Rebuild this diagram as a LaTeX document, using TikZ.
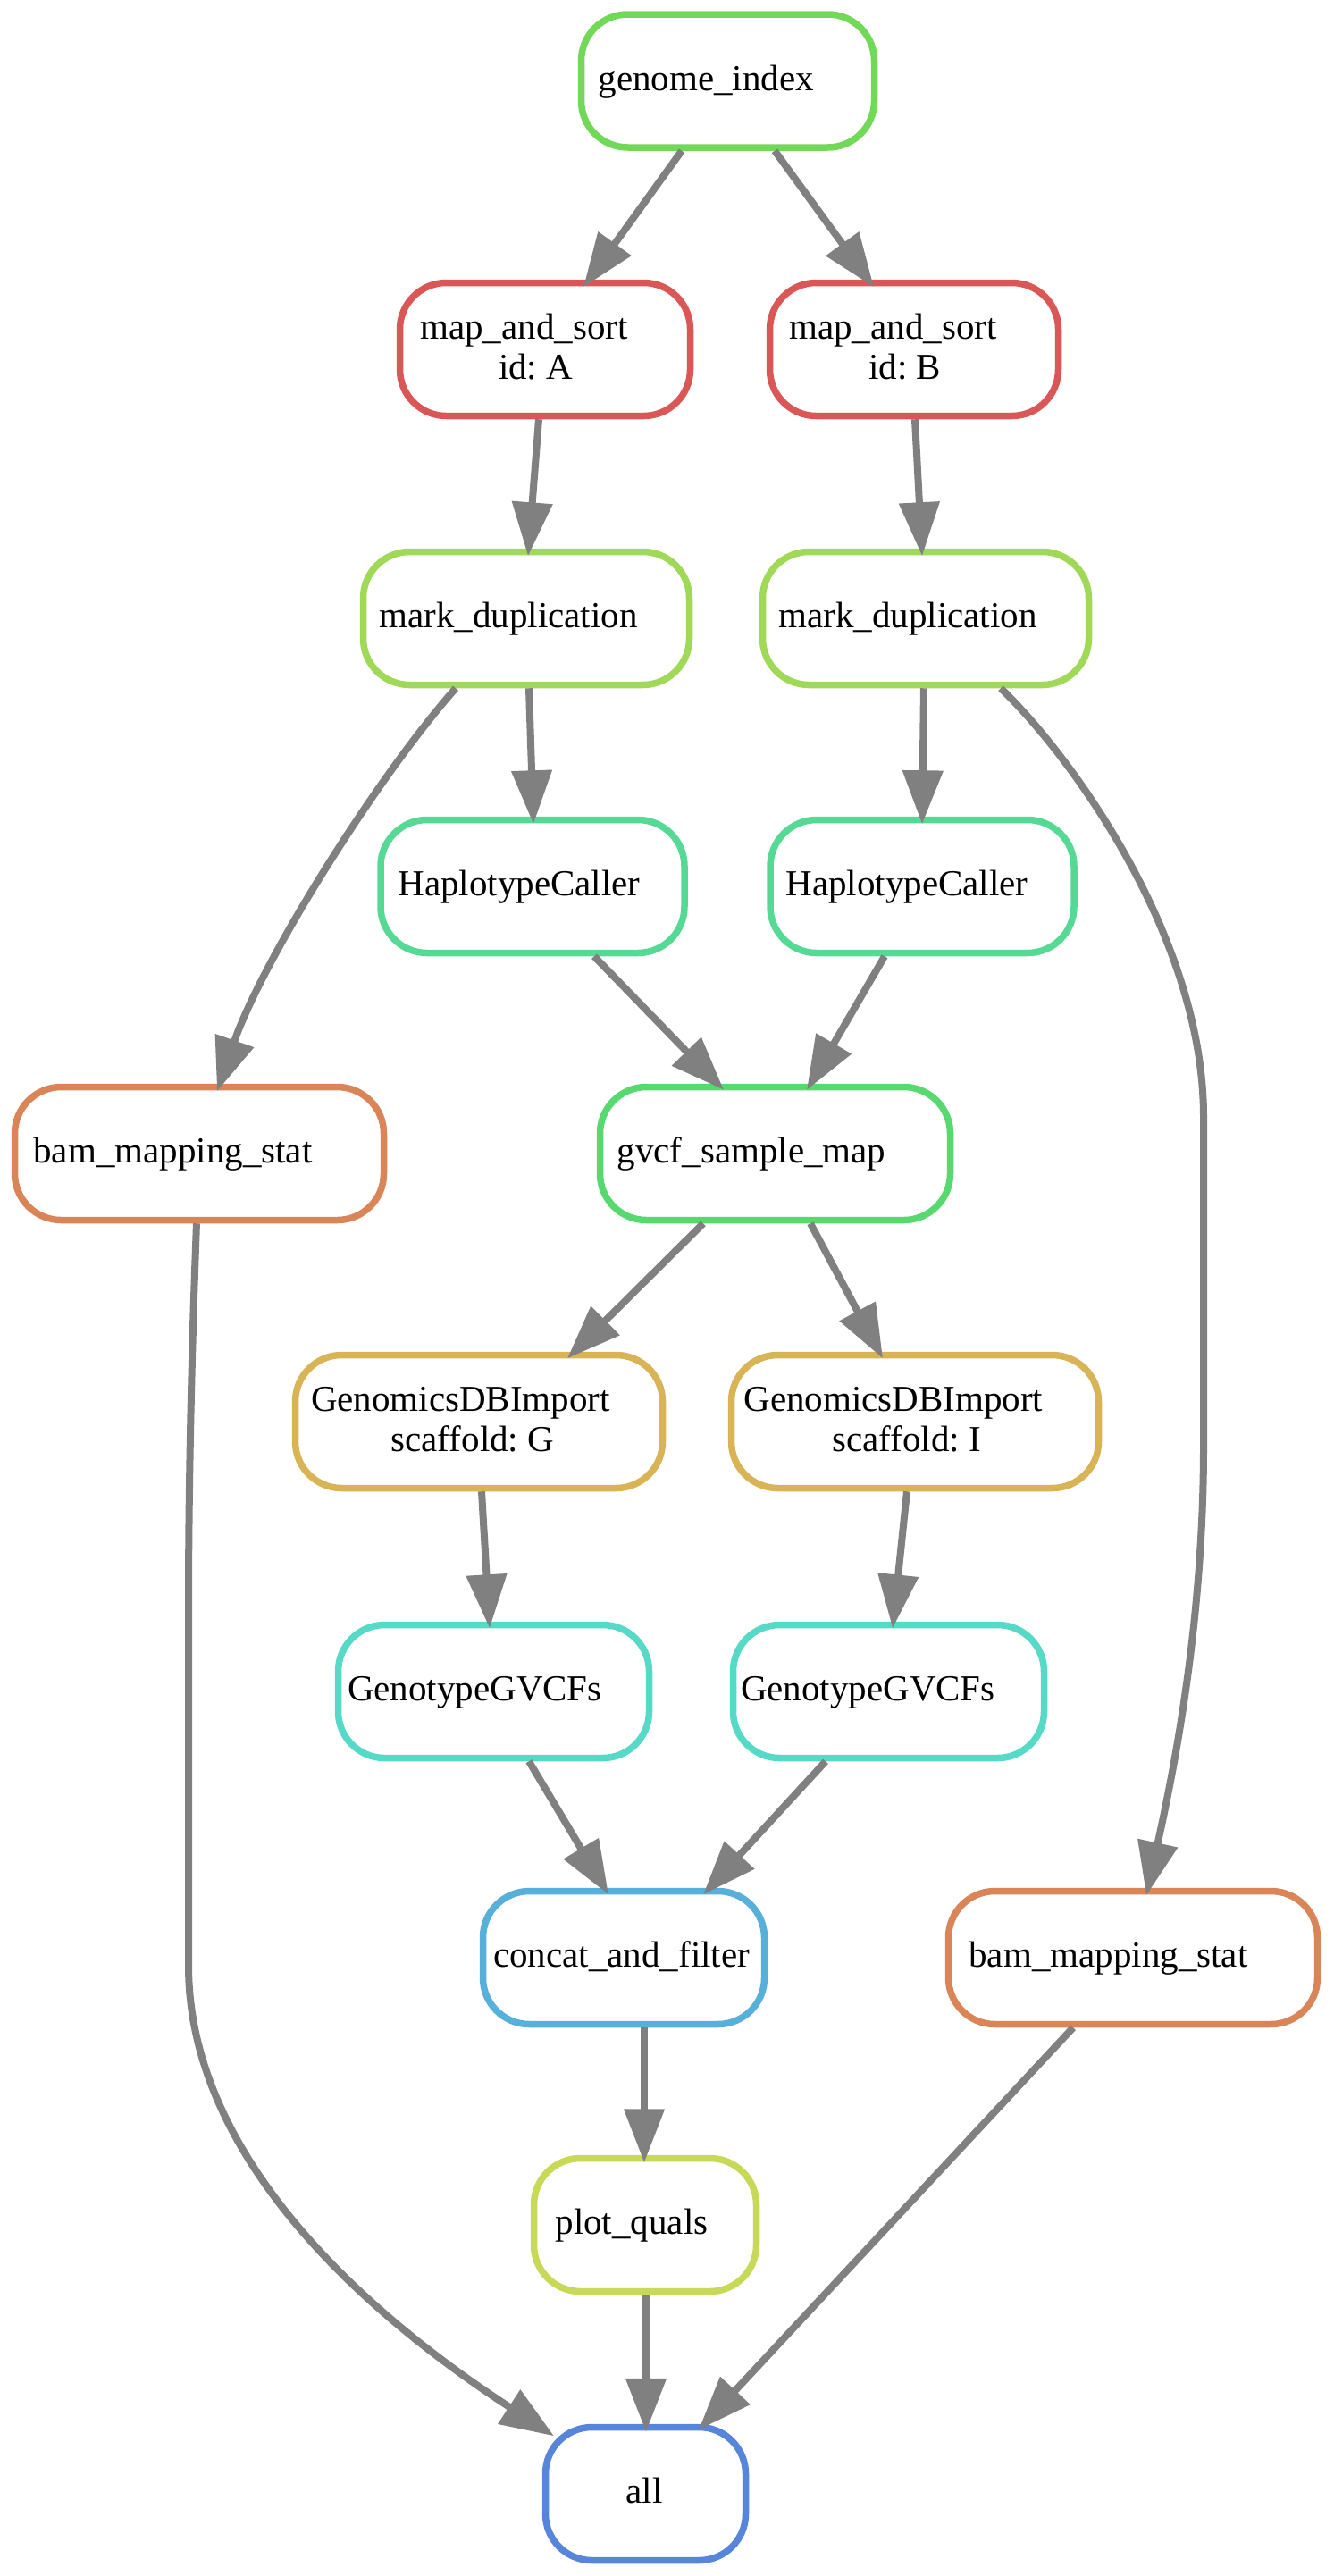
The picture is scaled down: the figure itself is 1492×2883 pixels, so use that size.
\documentclass[tikz,border=0pt]{standalone}
\usepackage{fontspec}
\setmainfont{Liberation Serif}
\usetikzlibrary{arrows.meta}

% rule colours (HSV, s=0.6, v=0.85)
\definecolor{cGenome}{HTML}{71D957}
\definecolor{cMap}{HTML}{D95757}
\definecolor{cMark}{HTML}{A0D957}
\definecolor{cHap}{HTML}{57D996}
\definecolor{cBam}{HTML}{D98557}
\definecolor{cGvcf}{HTML}{57D96F}
\definecolor{cGdb}{HTML}{D9B457}
\definecolor{cGeno}{HTML}{57D9C8}
\definecolor{cConcat}{HTML}{57B0D9}
\definecolor{cPlot}{HTML}{C8D957}
\definecolor{cAll}{HTML}{5785D9}
\definecolor{edgegray}{HTML}{808080}

% one label line of zero width (the box never grows), with a fixed strut,
% trailing room, and an optional horizontal offset
\newcommand\gvline[2][0pt]{\sbox0{#2}%
  \makebox[0pt]{\hspace*{#1}\hspace*{#1}\makebox[1.1765\wd0][l]{\usebox0}}%
  \rule[-11pt]{0pt}{43pt}}

\begin{document}
\frenchspacing
\begin{tikzpicture}[x=1pt,y=-1pt,
  job/.style={draw=#1, line width=7.5pt, rounded corners=52pt, fill=white,
    minimum height=149pt, inner sep=0pt, align=center,
    font=\fontsize{41}{45}\selectfont\frenchspacing},
  flow/.style={draw=edgegray, line width=8pt,
    -{Triangle[length=60pt,width=44pt]}}]

\useasboundingbox (0,0) rectangle (1492,2883);

% rules
\node[job=cGenome, minimum width=328pt] (genome) at (814.5,90.5) {\gvline[-3pt]{genome\_index}};
\node[job=cMap, minimum width=325pt] (mapA) at (610,391) {\gvline[-3pt]{map\_and\_sort}\\\gvline[-3pt]{id: A}};
\node[job=cMap, minimum width=323pt] (mapB) at (1023,391) {\gvline[-3pt]{map\_and\_sort}\\\gvline[-3pt]{id: B}};
\node[job=cMark, minimum width=365pt] (markA) at (589,692) {\gvline[5.5pt]{mark\_duplication}};
\node[job=cMark, minimum width=365pt] (markB) at (1036,692) {\gvline[5.5pt]{mark\_duplication}};
\node[job=cHap, minimum width=340pt] (hapA) at (596,992) {\gvline[9pt]{HaplotypeCaller}};
\node[job=cHap, minimum width=340pt] (hapB) at (1032,992) {\gvline[7pt]{HaplotypeCaller}};
\node[job=cBam, minimum width=413pt] (bamL) at (223,1291) {\gvline[-2pt]{bam\_mapping\_stat}};
\node[job=cGvcf, minimum width=392pt] (gvcf) at (867.5,1291) {\gvline{gvcf\_sample\_map}};
\node[job=cGdb, minimum width=411pt] (gdbG) at (536,1591) {\gvline[9pt]{GenomicsDBImport}\\\gvline[9pt]{scaffold: G}};
\node[job=cGdb, minimum width=411pt] (gdbI) at (1024,1591) {\gvline[5.5pt]{GenomicsDBImport}\\\gvline[5.5pt]{scaffold: I}};
\node[job=cGeno, minimum width=348pt] (genoG) at (552.5,1893) {\gvline[4pt]{GenotypeGVCFs}};
\node[job=cGeno, minimum width=348pt] (genoI) at (994.5,1893) {\gvline[2pt]{GenotypeGVCFs}};
\node[job=cConcat, minimum width=315pt] (concat) at (698,2191) {\gvline[23pt]{concat\_and\_filter}};
\node[job=cBam, minimum width=413pt] (bamR) at (1268,2191) {\gvline{bam\_mapping\_stat}};
\node[job=cPlot, minimum width=249pt] (plot) at (722,2490) {\gvline{plot\_quals}};
\node[job=cAll, minimum width=224pt] (all) at (722.5,2791) {\gvline[2pt]{all}};

% dependencies
\draw[flow] ([shift={(-51.5,0)}]genome.south) -- ([shift={(43,8.5)}]mapA.north);
\draw[flow] ([shift={(52.5,0)}]genome.south) -- ([shift={(-45,8.5)}]mapB.north);
\draw[flow] ([shift={(-7,0)}]mapA.south) -- ([shift={(2,8.5)}]markA.north);
\draw[flow] ([shift={(1,0)}]mapB.south) -- ([shift={(-4,8.5)}]markB.north);
\draw[flow] ([shift={(3,0)}]markA.south) -- ([shift={(1,8.5)}]hapA.north);
\draw[flow] ([shift={(-2,0)}]markB.south) -- ([shift={(0,8.5)}]hapB.north);
\draw[flow] ([shift={(-79,0)}]markA.south)
  .. controls +(-90,102) and +(50,-145) .. ([shift={(20,8.5)}]bamL.north);
\draw[flow] ([shift={(84,0)}]markB.south)
  .. controls +(80,77) and +(0,-200) .. (1347,1250) -- (1347,1620)
  .. controls +(0,210) and +(25,-115) .. ([shift={(15,8.5)}]bamR.north);
\draw[flow] ([shift={(69,0)}]hapA.south) -- ([shift={(-57.5,7)}]gvcf.north);
\draw[flow] ([shift={(-42,0)}]hapB.south) -- ([shift={(35.5,7)}]gvcf.north);
\draw[flow] ([shift={(-80.5,0)}]gvcf.south) -- ([shift={(99,7.5)}]gdbG.north);
\draw[flow] ([shift={(39.5,0)}]gvcf.south) -- ([shift={(-36,7.5)}]gdbI.north);
\draw[flow] ([shift={(3,0)}]gdbG.south) -- ([shift={(-4.5,7.5)}]genoG.north);
\draw[flow] ([shift={(-9,0)}]gdbI.south) -- ([shift={(4.5,7.5)}]genoI.north);
\draw[flow] ([shift={(39.5,0)}]genoG.south) -- ([shift={(-17,7.5)}]concat.north);
\draw[flow] ([shift={(-70.5,0)}]genoI.south) -- ([shift={(89,7.5)}]concat.north);
\draw[flow] ([shift={(23,0)}]concat.south) -- ([shift={(-1,8.5)}]plot.north);
\draw[flow] ([shift={(1,0)}]plot.south) -- ([shift={(0.5,9)}]all.north);
\draw[flow] ([shift={(-3,0)}]bamL.south)
  .. controls +(-5,130) and +(0,-150) .. (211,1800) -- (211,2200)
  .. controls +(0,220) and +(-200,-130) .. ([shift={(-102.5,13.5)}]all.north);
\draw[flow] ([shift={(-67,0)}]bamR.south) -- ([shift={(59.5,6.5)}]all.north);
\end{tikzpicture}
\end{document}
